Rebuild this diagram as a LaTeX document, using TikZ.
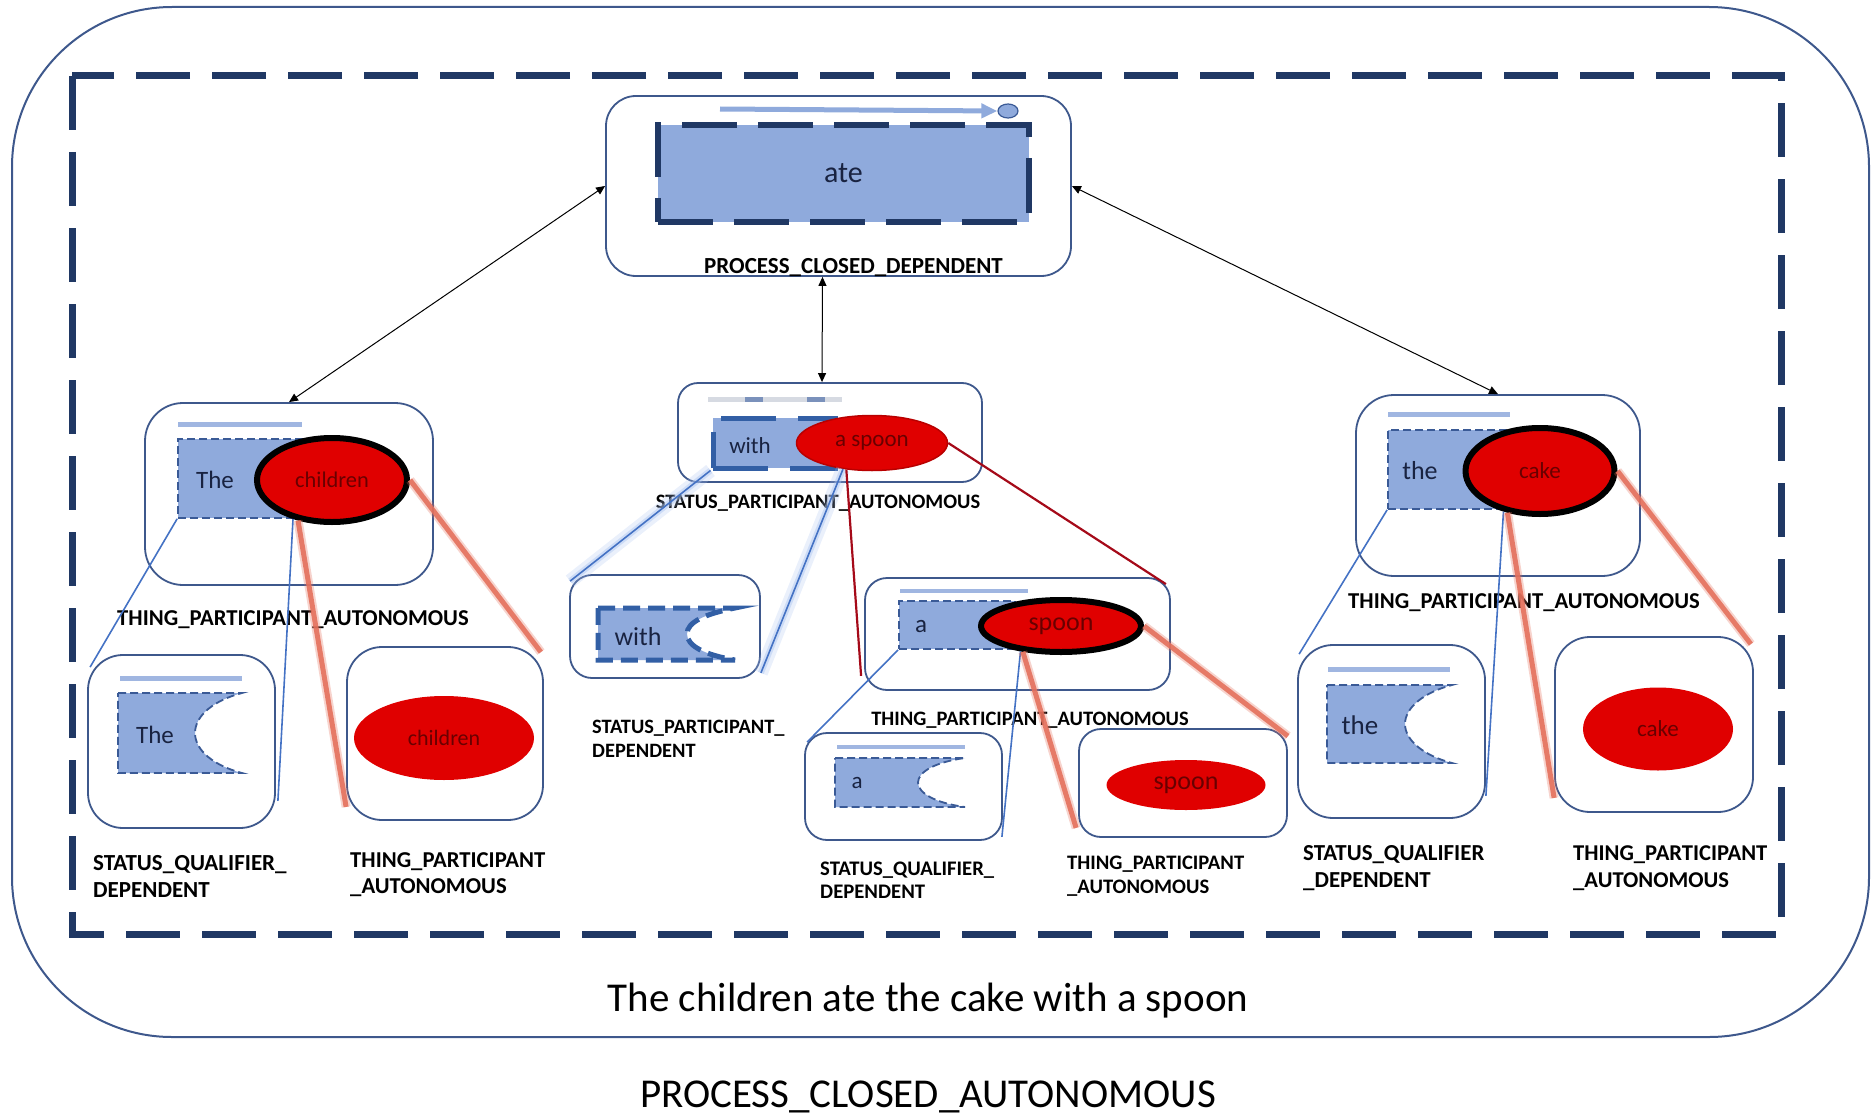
\documentclass[tikz,border=0pt]{standalone}
\usepackage{fontspec}
\setmainfont{Carlito}
\usetikzlibrary{arrows.meta,shapes.geometric,calc}

\definecolor{navy}{RGB}{32,56,100}
\definecolor{boxblue}{RGB}{62,88,140}
\definecolor{fillblue}{RGB}{143,170,220}
\definecolor{barblue}{RGB}{160,182,225}
\definecolor{bargrey}{RGB}{214,218,226}
\definecolor{dashblue}{RGB}{58,90,150}
\definecolor{thickdash}{RGB}{50,95,165}
\definecolor{redfill}{RGB}{224,0,0}
\definecolor{redtext}{RGB}{105,0,0}
\definecolor{redrim}{RGB}{185,0,0}
\definecolor{inktext}{RGB}{25,35,65}
\definecolor{linkblue}{RGB}{68,114,196}
\definecolor{glowblue}{RGB}{170,195,240}
\definecolor{linkred}{RGB}{165,10,25}
\definecolor{salmon}{RGB}{228,112,92}

\newcommand\lblfont[1]{\bfseries\fontsize{#1}{#1}\selectfont}
\newcommand\txtfont[1]{\fontsize{#1}{#1}\selectfont}

\tikzset{
  mbox/.style={draw=boxblue, line width=1.8pt, fill=white, inner sep=0pt},
  thindash/.style={draw=dashblue, line width=1.8pt, dash pattern=on 8pt off 4pt, fill=fillblue},
  thickdashed/.style={draw=thickdash, line width=5pt, dash pattern=on 17pt off 8pt, fill=fillblue},
  ell/.style={ellipse, fill=redfill, inner sep=0pt, text=redtext},
  bar/.style={barblue, line width=5pt},
  word/.style={text=inktext, inner sep=0pt},
  lbl/.style={inner sep=0pt, text=black},
  dblarrow/.style={black, line width=1pt,
    {Triangle[length=9pt,width=8pt]}-{Triangle[length=9pt,width=8pt]}},
  bluelink/.style={linkblue, line width=1.6pt},
  redthin/.style={linkred, line width=2.2pt},
  redglow/.style={salmon, line width=9pt, opacity=0.3},
  redcore/.style={salmon, line width=5pt, opacity=0.9},
  blueglow/.style={glowblue, line width=14pt, opacity=0.25},
  blueglowin/.style={glowblue, line width=6pt, opacity=0.45},
}

\begin{document}
\begin{tikzpicture}[x=1pt, y=-1pt]
\useasboundingbox (0,0) rectangle (1873,1118);

% outer frame and dashed border
\draw[boxblue, line width=2pt, rounded corners=160pt] (12,7) rectangle (1869,1037);
\draw[navy, line width=7pt, dash pattern=on 54pt off 22pt] (72,76) rectangle (1781,934);

% ---------- process node ----------
\node[mbox, rounded corners=30pt, minimum width=465pt, minimum height=180pt] (ateBox) at (838.5,186) {};
\node[draw=navy, line width=6pt, dash pattern=on 55pt off 21pt, fill=fillblue,
      minimum width=371pt, minimum height=97pt, inner sep=0pt, text=inktext,
      font=\txtfont{30}] (ateRect) at (843.5,173.5) {ate};
\node[ellipse, draw=dashblue, line width=1.2pt, fill=fillblue, minimum width=20pt,
      minimum height=14pt, inner sep=0pt] (ateDot) at (1008,111) {};
\coordinate (ateStart) at (720,109);
\draw[fillblue, line width=5pt, -{Triangle[length=16pt,width=14pt]}] (ateStart) -- (ateDot.west);
\node[lbl, anchor=base, font=\lblfont{23}] (ateLbl) at (853.5,273) {PROCESS\_CLOSED\_DEPENDENT};

% ---------- "The children" ----------
\node[mbox, rounded corners=38pt, minimum width=288pt, minimum height=182pt] (thcBox) at (289,494) {};
\draw[bar] (178,424) -- (302,424);
\node[thindash, minimum width=137pt, minimum height=79pt, inner sep=0pt] (thcRect) at (246.5,478.5) {};
\node[word, font=\txtfont{25}] (thcDet) at (215,480) {The};
\node[ell, draw=black, line width=6pt, minimum width=150pt, minimum height=84pt,
      font=\txtfont{22.4}] (thcN) at (332,480) {children};
\node[lbl, anchor=base, font=\lblfont{22.7}] (thcLbl) at (293,625) {THING\_PARTICIPANT\_AUTONOMOUS};

\node[mbox, rounded corners=35pt, minimum width=187pt, minimum height=173pt] (tqBox) at (181.5,741.5) {};
\draw[bar] (120,678) -- (242,678);
\draw[thindash] (118,693) -- (242,693) .. controls (215,700) and (195,715) .. (195,733)
   .. controls (195,751) and (215,766) .. (242,773) -- (118,773) -- cycle;
\node[word, font=\txtfont{25}] (tqDet) at (155,735) {The};
\node[lbl, anchor=base west, font=\lblfont{23}] (tqLblA) at (93,870) {STATUS\_QUALIFIER\_};
\node[lbl, anchor=base west, font=\lblfont{23}] (tqLblB) at (93,897) {DEPENDENT};

\node[mbox, rounded corners=35pt, minimum width=196pt, minimum height=173pt] (cpBox) at (445,733.5) {};
\node[ell, minimum width=180pt, minimum height=84pt, font=\txtfont{22}] (cpN) at (444,738) {children};
\node[lbl, anchor=base west, font=\lblfont{22.7}] (cpLblA) at (350,867) {THING\_PARTICIPANT};
\node[lbl, anchor=base west, font=\lblfont{22.7}] (cpLblB) at (350,893) {\_AUTONOMOUS};

% ---------- "with a spoon" ----------
\node[mbox, rounded corners=20pt, minimum width=304pt, minimum height=99pt] (withBox) at (830,432.5) {};
\draw[bargrey, line width=5pt] (708,399) -- (842,399);
\draw[fillblue!85!black, line width=5pt] (745,399) -- (763,399) (807,399) -- (825,399);
\node[draw=thickdash, line width=5pt, dash pattern=on 55pt off 22pt, fill=fillblue,
      minimum width=122pt, minimum height=50pt, inner sep=0pt] (withRect) at (774,443) {};
\node[word, font=\txtfont{23}] (withDet) at (750,446) {with};
\node[ell, draw=redrim, line width=1.5pt, minimum width=151pt, minimum height=55pt,
      font=\txtfont{23}] (aspN) at (872,443) {a spoon};
\node[lbl, anchor=base, font=\lblfont{20.5}] (withLbl) at (818,508) {STATUS\_PARTICIPANT\_AUTONOMOUS};

\node[mbox, rounded corners=22pt, minimum width=190pt, minimum height=103pt] (wpBox) at (665,626.5) {};
\draw[thickdashed] (598,608) -- (735,608) .. controls (705,614) and (687,622) .. (687,634)
   .. controls (687,646) and (705,655) .. (735,660) -- (598,660) -- cycle;
\node[word, font=\txtfont{26}] (wpDet) at (638,637) {with};
\node[lbl, anchor=base west, font=\lblfont{20.4}] (wpLblA) at (592,733) {STATUS\_PARTICIPANT\_};
\node[lbl, anchor=base west, font=\lblfont{20.4}] (wpLblB) at (592,757) {DEPENDENT};

\node[mbox, rounded corners=22pt, minimum width=305pt, minimum height=112pt] (aspBox) at (1017.5,634) {};
\draw[bar, line width=4pt] (900,591) -- (1028,591);
\node[thindash, minimum width=116pt, minimum height=48pt, inner sep=0pt] (aRect) at (957,625) {};
\node[word, font=\txtfont{25}] (aDet) at (921,627) {a};
\node[ell, draw=black, line width=6pt, minimum width=160pt, minimum height=52pt,
      font=\txtfont{26}] (spoonE) at (1061,626) {spoon};
\node[lbl, anchor=base, font=\lblfont{20.5}] (aspLbl) at (1030,725) {THING\_PARTICIPANT\_AUTONOMOUS};

\node[mbox, rounded corners=22pt, minimum width=197pt, minimum height=107pt] (aqBox) at (903.5,786.5) {};
\draw[bar, line width=4pt] (837,747) -- (965,747);
\draw[thindash] (835,758) -- (965,758) .. controls (935,762) and (918,772) .. (918,782.5)
   .. controls (918,793) and (935,803) .. (965,807) -- (835,807) -- cycle;
\node[word, font=\txtfont{23}] (aqDet) at (857,783) {a};
\node[lbl, anchor=base west, font=\lblfont{20.7}] (aqLblA) at (820,875) {STATUS\_QUALIFIER\_};
\node[lbl, anchor=base west, font=\lblfont{20.7}] (aqLblB) at (820,898) {DEPENDENT};

\node[mbox, rounded corners=22pt, minimum width=208pt, minimum height=108pt] (spBox) at (1183,783) {};
\node[ell, minimum width=159pt, minimum height=50pt, font=\txtfont{26}] (spN) at (1186,785) {spoon};
\node[lbl, anchor=base west, font=\lblfont{20.6}] (spLblA) at (1067,869) {THING\_PARTICIPANT};
\node[lbl, anchor=base west, font=\lblfont{20.6}] (spLblB) at (1067,893) {\_AUTONOMOUS};

% ---------- "the cake" ----------
\node[mbox, rounded corners=38pt, minimum width=284pt, minimum height=181pt] (ckmBox) at (1498,485.5) {};
\draw[bar] (1388,414) -- (1510,414);
\node[thindash, minimum width=122pt, minimum height=79pt, inner sep=0pt] (theRect) at (1449,469.5) {};
\node[word, font=\txtfont{26}] (theDet) at (1420,471) {the};
\node[ell, draw=black, line width=6pt, minimum width=149pt, minimum height=86pt,
      font=\txtfont{23}] (cakeE) at (1540,471) {cake};
\node[lbl, anchor=base, font=\lblfont{22.7}] (ckmLbl) at (1524,608) {THING\_PARTICIPANT\_AUTONOMOUS};

\node[mbox, rounded corners=35pt, minimum width=187pt, minimum height=173pt] (thqBox) at (1391.5,731.5) {};
\draw[bar] (1328,669) -- (1450,669);
\draw[thindash] (1327,685) -- (1452,685) .. controls (1425,692) and (1405,707) .. (1405,724)
   .. controls (1405,741) and (1425,756) .. (1452,763) -- (1327,763) -- cycle;
\node[word, font=\txtfont{27}] (thqDet) at (1360,725) {the};
\node[lbl, anchor=base west, font=\lblfont{22.9}] (thqLblA) at (1303,860) {STATUS\_QUALIFIER};
\node[lbl, anchor=base west, font=\lblfont{22.9}] (thqLblB) at (1303,887) {\_DEPENDENT};

\node[mbox, rounded corners=35pt, minimum width=198pt, minimum height=175pt] (ckBox) at (1654,724.5) {};
\node[ell, minimum width=150pt, minimum height=83pt, font=\txtfont{23}] (ckN) at (1658,729) {cake};
\node[lbl, anchor=base west, font=\lblfont{22.6}] (ckLblA) at (1573,860) {THING\_PARTICIPANT};
\node[lbl, anchor=base west, font=\lblfont{22.6}] (ckLblB) at (1573,887) {\_AUTONOMOUS};

% ---------- arrows from the process ----------
\draw[dblarrow] (ateBox.west) -- (thcBox.north);
\draw[dblarrow] ($(ateBox.south)+(-16,0)$) -- ($(withBox.north)+(-8,0)$);
\draw[dblarrow] (ateBox.east) -- (ckmBox.north);

% ---------- links to the parts ----------
% the children
\draw[bluelink] (thcRect.south west) -- ($(tqBox.north west)+(3,13)$);
\draw[bluelink] (thcN.225) -- ($(tqBox.south east)+(2,-28)$);
\draw[redglow] (thcN.230) -- ($(cpBox.south west)+(0,-14)$);
\draw[redcore] (thcN.230) -- ($(cpBox.south west)+(0,-14)$);
\draw[redglow] (thcN.east) -- ($(cpBox.north east)+(-3,6)$);
\draw[redcore] (thcN.east) -- ($(cpBox.north east)+(-3,6)$);

% with a spoon
\foreach \g in {blueglow, blueglowin, bluelink}{
  \draw[\g] (withRect.south west) -- ($(wpBox.north west)+(1,7)$);
  \draw[\g] (aspN.222) -- ($(wpBox.south east)+(0,-6)$);
}
\draw[redthin] (aspN.226) -- ($(aspBox.south west)+(-3,-15)$);
\draw[redthin] (aspN.east) -- ($(aspBox.north east)+(-5,7)$);

% a spoon
\draw[bluelink] (aRect.south west) -- ($(aqBox.north west)+(3,10)$);
\draw[bluelink] (spoonE.212) -- ($(aqBox.south east)+(-1,-4)$);
\draw[redglow] (spoonE.214) -- ($(spBox.south west)+(-2,-10)$);
\draw[redcore] (spoonE.214) -- ($(spBox.south west)+(-2,-10)$);
\draw[redglow] (spoonE.east) -- ($(spBox.north east)+(0,8)$);
\draw[redcore] (spoonE.east) -- ($(spBox.north east)+(0,8)$);

% the cake
\draw[bluelink] (theRect.south west) -- ($(thqBox.north west)+(2,10)$);
\draw[bluelink] (cakeE.228) -- ($(thqBox.south east)+(0,-23)$);
\draw[redglow] (cakeE.232) -- ($(ckBox.south west)+(0,-15)$);
\draw[redcore] (cakeE.232) -- ($(ckBox.south west)+(0,-15)$);
\draw[redglow] (cakeE.east) -- ($(ckBox.north east)+(-3,8)$);
\draw[redcore] (cakeE.east) -- ($(ckBox.north east)+(-3,8)$);

% ---------- sentence and clause type ----------
\node[lbl, anchor=base, font=\txtfont{41}] (sentence) at (928,1011) {The children ate the cake with a spoon};
\node[lbl, anchor=base, font=\txtfont{41}] (clause) at (928,1107) {PROCESS\_CLOSED\_AUTONOMOUS};
\end{tikzpicture}
\end{document}
